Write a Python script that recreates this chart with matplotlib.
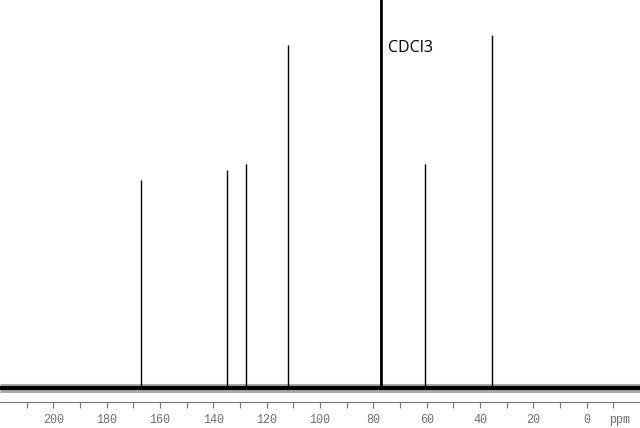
import matplotlib.pyplot as plt
import numpy as np

# 13C NMR peaks (ppm) and intensities (% of plot height above baseline)
shifts = [167.2, 135.0, 127.9, 112.1, 60.7, 35.6]
heights = [53.5, 56.3, 57.6, 88.5, 57.6, 91.0]
# CDCl3 solvent triplet, clipped at the top
solvent_shifts = [77.3, 77.0, 76.7]
solvent_heights = [130, 135, 130]
solvent_label = "CDCl3"

ppm_range = [220, -20]
tick_major = np.arange(200, -1, -20)
tick_minor = np.arange(210, -11, -10)

fig = plt.figure(figsize=(6.4, 4.28), dpi=100)
ax = fig.add_axes([0, 0.061, 1, 0.939])

# baseline (noise band)
ax.plot(ppm_range, [0, 0], color="#444444", lw=6.5, solid_capstyle="butt", alpha=0.45)
ax.plot(ppm_range, [0, 0], color="black", lw=3.0, solid_capstyle="butt")

ax.vlines(shifts, 0, heights, color="black", lw=1.0)
ax.vlines(solvent_shifts, 0, solvent_heights, color="black", lw=1.2)

ax.text(74.5, 87.5, solvent_label, fontsize=11.5, family="Open Sans",
        ha="left", va="center")

ax.set_xlim(ppm_range)
ax.set_ylim(-3.6, 100)
ax.set_xticks(tick_major)
ax.set_xticklabels([str(t) for t in tick_major])
ax.set_xticks(tick_minor, minor=True)
ax.tick_params(axis="x", which="both", direction="out", length=4, width=0.8,
               colors="#707070", labelsize=8.5, pad=5)
for lab in ax.get_xticklabels():
    lab.set_family("Liberation Mono")
ax.set_yticks([])
for s in ["top", "left", "right"]:
    ax.spines[s].set_visible(False)
ax.spines["bottom"].set_color("#777777")
ax.annotate("ppm", xy=(-12.5, 0), xycoords=ax.get_xaxis_transform(),
            xytext=(0, -9), textcoords="offset points", fontsize=8.5,
            family="Liberation Mono", color="#707070", ha="center", va="top")

fig.savefig("out.png", dpi=100)
